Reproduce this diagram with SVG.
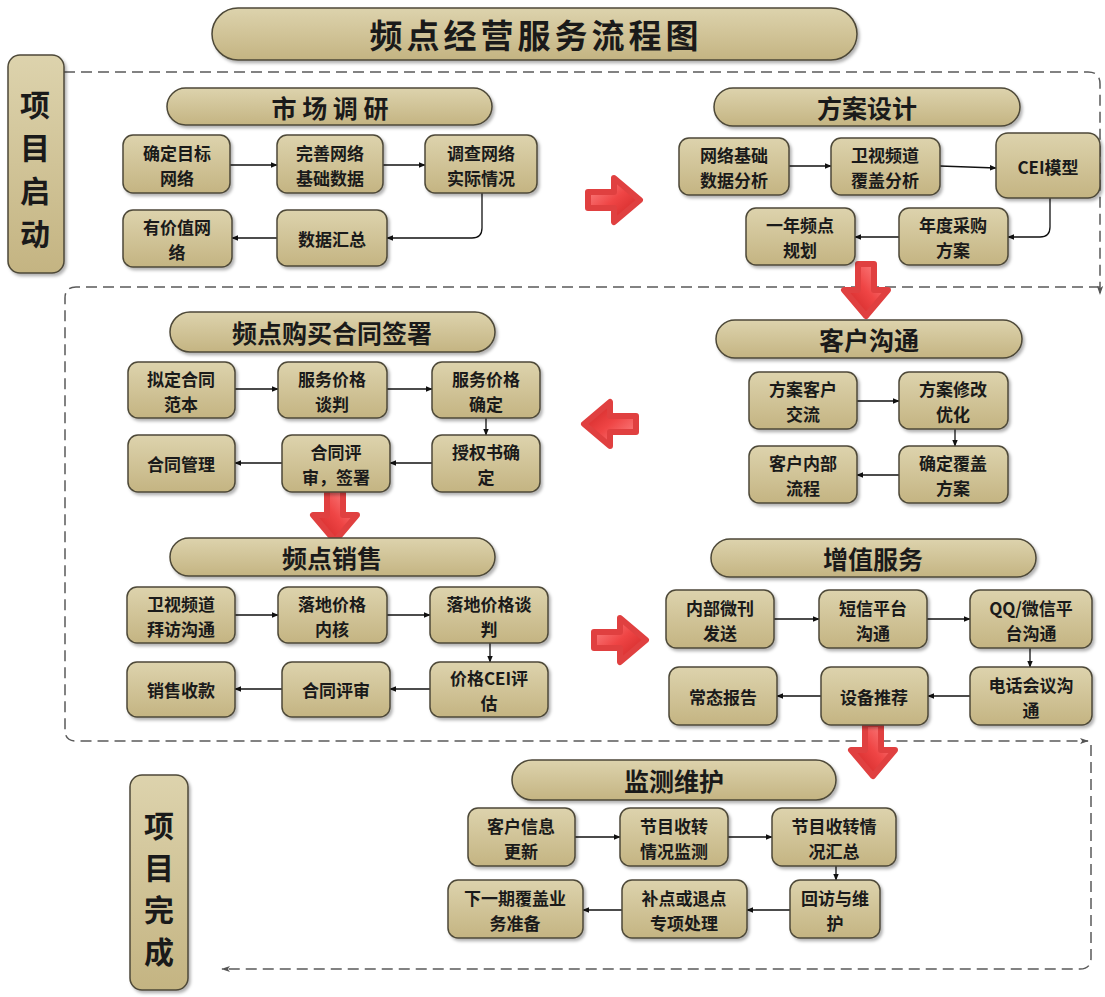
<svg xmlns="http://www.w3.org/2000/svg" width="1105" height="997" viewBox="0 0 1105 997">
<defs>
<linearGradient id="tan" x1="0" y1="0" x2="0" y2="1">
<stop offset="0" stop-color="#ddd3ad"/>
<stop offset="1" stop-color="#c4b482"/>
</linearGradient>
<linearGradient id="red" x1="0" y1="0" x2="1" y2="1">
<stop offset="0" stop-color="#ff9090"/>
<stop offset="0.5" stop-color="#ef4545"/>
<stop offset="1" stop-color="#c82020"/>
</linearGradient>
<filter id="sh" x="-10%" y="-10%" width="130%" height="140%">
<feDropShadow dx="2" dy="2.5" stdDeviation="1.5" flood-color="#000" flood-opacity="0.3"/>
</filter>
<marker id="ah" viewBox="0 0 10 10" refX="9" refY="5" markerWidth="7" markerHeight="7" orient="auto" markerUnits="userSpaceOnUse">
<path d="M0,1 L10,5 L0,9 Z" fill="#111"/>
</marker>
<marker id="dh" viewBox="0 0 10 10" refX="9" refY="5" markerWidth="9" markerHeight="9" orient="auto" markerUnits="userSpaceOnUse">
<path d="M0,1.5 L10,5 L0,8.5 L2.5,5 Z" fill="#555"/>
</marker>
<path id="rarrow" d="M-26,-8 L0,-8 L0,-22 L26,0 L0,22 L0,8 L-26,8 Z" fill="url(#red)" stroke="#e04040" stroke-width="6" stroke-linejoin="round"/>
</defs>
<style>
.box{fill:url(#tan);stroke:#4d4838;stroke-width:1.5;filter:url(#sh)}
.t{font-family:"Noto Sans CJK SC","Noto Sans",sans-serif;font-weight:bold;font-size:17px;fill:#1a1a1a;text-anchor:middle;dominant-baseline:central}
.h{font-family:"Noto Sans CJK SC","Noto Sans",sans-serif;font-weight:bold;font-size:25px;fill:#1a1a1a;text-anchor:middle;dominant-baseline:central}
.v{font-family:"Noto Sans CJK SC","Noto Sans",sans-serif;font-weight:bold;font-size:30px;fill:#1a1a1a;text-anchor:middle;dominant-baseline:central}
.c{fill:none;stroke:#111;stroke-width:1.3;marker-end:url(#ah)}
.d{fill:none;stroke:#5a5a5a;stroke-width:1.5;stroke-dasharray:11 6}
</style>

<g id="boundaries">
<path class="d" d="M64,72 H1088 Q1100,72 1100,84 V294" marker-end="url(#dh)"/>
<path class="d" d="M1100,287 H76 Q65,287 65,298 V730 Q65,741 76,741 H1088" marker-end="url(#dh)"/>
<path class="d" d="M1091,745 V958 Q1091,969 1080,969 H222" marker-end="url(#dh)"/>
</g>

<g id="title"><rect class="box" x="212" y="8" width="645" height="52" rx="26"/><text class="h" style="font-size:33px;letter-spacing:4px" x="536" y="34">频点经营服务流程图</text></g>

<g id="project-start"><rect class="box" x="8" y="55" width="56" height="218" rx="12"/>
<text class="v" x="35"><tspan x="35" y="103">项</tspan><tspan x="35" y="146">目</tspan><tspan x="35" y="189">启</tspan><tspan x="35" y="232">动</tspan></text></g>

<g id="project-done"><rect class="box" x="130" y="775" width="58" height="215" rx="12"/>
<text class="v" x="159"><tspan x="159" y="824">项</tspan><tspan x="159" y="866">目</tspan><tspan x="159" y="908">完</tspan><tspan x="159" y="950">成</tspan></text></g>

<g id="connectors">
<path class="c" d="M230,165 H277"/>
<path class="c" d="M383,165 H425"/>
<path class="c" d="M482,193 V228 Q482,238 472,238 H387"/>
<path class="c" d="M277,238 H232"/>
<path class="c" d="M789,166 H831"/>
<path class="c" d="M940,166 L996,168"/>
<path class="c" d="M1050,198 V227 Q1050,237 1040,237 H1008"/>
<path class="c" d="M899,237 H855"/>
<path class="c" d="M235,389 H278"/>
<path class="c" d="M387,389 H432"/>
<path class="c" d="M486,418 V435"/>
<path class="c" d="M432,463 H390"/>
<path class="c" d="M282,463 H235"/>
<path class="c" d="M857,401 H899"/>
<path class="c" d="M955,429 V446"/>
<path class="c" d="M899,475 H857"/>
<path class="c" d="M235,615 H278"/>
<path class="c" d="M387,615 H430"/>
<path class="c" d="M490,643 V662"/>
<path class="c" d="M430,689 H390"/>
<path class="c" d="M282,689 H235"/>
<path class="c" d="M774,619 H819"/>
<path class="c" d="M927,619 H970"/>
<path class="c" d="M1030,648 V667"/>
<path class="c" d="M970,696 H928"/>
<path class="c" d="M821,696 H777"/>
<path class="c" d="M575,837 H620"/>
<path class="c" d="M728,837 H772"/>
<path class="c" d="M836,866 V880"/>
<path class="c" d="M790,910 H747"/>
<path class="c" d="M622,910 H583"/>
</g>

<g id="flow-arrows">
<use href="#rarrow" transform="translate(614,200)"/>
<use href="#rarrow" transform="translate(866,290) rotate(90)"/>
<use href="#rarrow" transform="translate(610,424) rotate(180)"/>
<use href="#rarrow" transform="translate(335,515) rotate(90)"/>
<use href="#rarrow" transform="translate(620,640)"/>
<use href="#rarrow" transform="translate(873,750) rotate(90)"/>
</g>

<g id="sec-market">
<rect class="box" x="167" y="88" width="325" height="37" rx="18.5"/><text class="h" x="330" y="107">市 场 调 研</text>
</g>
<g id="n-qdmb"><rect class="box" x="123" y="135" width="107" height="58" rx="10"/><text class="t" x="177"><tspan x="177" y="152">确定目标</tspan><tspan x="177" y="177">网络</tspan></text></g>
<g id="n-wsjc"><rect class="box" x="277" y="135" width="106" height="58" rx="10"/><text class="t" x="330"><tspan x="330" y="152">完善网络</tspan><tspan x="330" y="177">基础数据</tspan></text></g>
<g id="n-dcwl"><rect class="box" x="425" y="135" width="112" height="58" rx="10"/><text class="t" x="481"><tspan x="481" y="152">调查网络</tspan><tspan x="481" y="177">实际情况</tspan></text></g>
<g id="n-yjz"><rect class="box" x="123" y="210" width="109" height="57" rx="10"/><text class="t" x="177"><tspan x="177" y="226">有价值网</tspan><tspan x="177" y="251">络</tspan></text></g>
<g id="n-sjhz"><rect class="box" x="277" y="210" width="110" height="56" rx="10"/><text class="t" x="332" y="238">数据汇总</text></g>

<g id="sec-plan">
<rect class="box" x="714" y="88" width="306" height="38" rx="19"/><text class="h" x="867" y="107">方案设计</text>
</g>
<g id="n-wljc"><rect class="box" x="679" y="138" width="110" height="57" rx="10"/><text class="t" x="734"><tspan x="734" y="154">网络基础</tspan><tspan x="734" y="179">数据分析</tspan></text></g>
<g id="n-wspd"><rect class="box" x="831" y="138" width="109" height="57" rx="10"/><text class="t" x="885"><tspan x="885" y="154">卫视频道</tspan><tspan x="885" y="179">覆盖分析</tspan></text></g>
<g id="n-cei"><rect class="box" x="996" y="133" width="104" height="65" rx="12"/><text class="t" x="1048" y="166">CEI模型</text></g>
<g id="n-ynpd"><rect class="box" x="746" y="208" width="109" height="57" rx="10"/><text class="t" x="800"><tspan x="800" y="224">一年频点</tspan><tspan x="800" y="249">规划</tspan></text></g>
<g id="n-ndcg"><rect class="box" x="899" y="208" width="109" height="57" rx="10"/><text class="t" x="953"><tspan x="953" y="224">年度采购</tspan><tspan x="953" y="249">方案</tspan></text></g>

<g id="sec-contract">
<rect class="box" x="170" y="312" width="325" height="40" rx="20"/><text class="h" x="332" y="332">频点购买合同签署</text>
</g>
<g id="n-ndht"><rect class="box" x="128" y="362" width="107" height="56" rx="10"/><text class="t" x="181"><tspan x="181" y="378">拟定合同</tspan><tspan x="181" y="403">范本</tspan></text></g>
<g id="n-fwtp"><rect class="box" x="278" y="362" width="109" height="56" rx="10"/><text class="t" x="332"><tspan x="332" y="378">服务价格</tspan><tspan x="332" y="403">谈判</tspan></text></g>
<g id="n-fwqd"><rect class="box" x="432" y="362" width="108" height="56" rx="10"/><text class="t" x="486"><tspan x="486" y="378">服务价格</tspan><tspan x="486" y="403">确定</tspan></text></g>
<g id="n-htgl"><rect class="box" x="128" y="435" width="107" height="57" rx="10"/><text class="t" x="181" y="463">合同管理</text></g>
<g id="n-htps"><rect class="box" x="282" y="435" width="108" height="57" rx="10"/><text class="t" x="336"><tspan x="336" y="451">合同评</tspan><tspan x="336" y="476">审，签署</tspan></text></g>
<g id="n-sqs"><rect class="box" x="432" y="435" width="108" height="57" rx="10"/><text class="t" x="486"><tspan x="486" y="451">授权书确</tspan><tspan x="486" y="476">定</tspan></text></g>

<g id="sec-client">
<rect class="box" x="716" y="320" width="306" height="38" rx="19"/><text class="h" x="869" y="339">客户沟通</text>
</g>
<g id="n-fakh"><rect class="box" x="749" y="372" width="108" height="57" rx="10"/><text class="t" x="803"><tspan x="803" y="388">方案客户</tspan><tspan x="803" y="413">交流</tspan></text></g>
<g id="n-faxg"><rect class="box" x="899" y="372" width="109" height="57" rx="10"/><text class="t" x="953"><tspan x="953" y="388">方案修改</tspan><tspan x="953" y="413">优化</tspan></text></g>
<g id="n-khnb"><rect class="box" x="749" y="446" width="108" height="57" rx="10"/><text class="t" x="803"><tspan x="803" y="462">客户内部</tspan><tspan x="803" y="487">流程</tspan></text></g>
<g id="n-qdfg"><rect class="box" x="899" y="446" width="109" height="57" rx="10"/><text class="t" x="953"><tspan x="953" y="462">确定覆盖</tspan><tspan x="953" y="487">方案</tspan></text></g>

<g id="sec-sales">
<rect class="box" x="170" y="538" width="325" height="38" rx="19"/><text class="h" x="332" y="557">频点销售</text>
</g>
<g id="n-wsbf"><rect class="box" x="127" y="587" width="108" height="56" rx="10"/><text class="t" x="181"><tspan x="181" y="603">卫视频道</tspan><tspan x="181" y="628">拜访沟通</tspan></text></g>
<g id="n-ldnh"><rect class="box" x="278" y="587" width="109" height="56" rx="10"/><text class="t" x="332"><tspan x="332" y="603">落地价格</tspan><tspan x="332" y="628">内核</tspan></text></g>
<g id="n-ldtp"><rect class="box" x="430" y="587" width="118" height="56" rx="10"/><text class="t" x="489"><tspan x="489" y="603">落地价格谈</tspan><tspan x="489" y="628">判</tspan></text></g>
<g id="n-xssk"><rect class="box" x="127" y="662" width="108" height="55" rx="10"/><text class="t" x="181" y="689">销售收款</text></g>
<g id="n-htps2"><rect class="box" x="282" y="662" width="108" height="55" rx="10"/><text class="t" x="336" y="689">合同评审</text></g>
<g id="n-jgcei"><rect class="box" x="430" y="662" width="118" height="55" rx="10"/><text class="t" x="489"><tspan x="489" y="677">价格CEI评</tspan><tspan x="489" y="702">估</tspan></text></g>

<g id="sec-value">
<rect class="box" x="711" y="539" width="325" height="38" rx="19"/><text class="h" x="873" y="558">增值服务</text>
</g>
<g id="n-nbwk"><rect class="box" x="666" y="590" width="108" height="58" rx="10"/><text class="t" x="720"><tspan x="720" y="607">内部微刊</tspan><tspan x="720" y="632">发送</tspan></text></g>
<g id="n-dxpt"><rect class="box" x="819" y="590" width="108" height="58" rx="10"/><text class="t" x="873"><tspan x="873" y="607">短信平台</tspan><tspan x="873" y="632">沟通</tspan></text></g>
<g id="n-qq"><rect class="box" x="970" y="590" width="122" height="58" rx="10"/><text class="t" x="1031"><tspan x="1031" y="607">QQ/微信平</tspan><tspan x="1031" y="632">台沟通</tspan></text></g>
<g id="n-ctbg"><rect class="box" x="669" y="667" width="108" height="58" rx="10"/><text class="t" x="723" y="696">常态报告</text></g>
<g id="n-sbtj"><rect class="box" x="821" y="667" width="107" height="58" rx="10"/><text class="t" x="874" y="696">设备推荐</text></g>
<g id="n-dhhy"><rect class="box" x="970" y="667" width="122" height="58" rx="10"/><text class="t" x="1031"><tspan x="1031" y="684">电话会议沟</tspan><tspan x="1031" y="709">通</tspan></text></g>

<g id="sec-monitor">
<rect class="box" x="512" y="760" width="324" height="40" rx="20"/><text class="h" x="674" y="780">监测维护</text>
</g>
<g id="n-khxx"><rect class="box" x="468" y="808" width="107" height="58" rx="10"/><text class="t" x="521"><tspan x="521" y="825">客户信息</tspan><tspan x="521" y="850">更新</tspan></text></g>
<g id="n-jmjc"><rect class="box" x="620" y="808" width="108" height="58" rx="10"/><text class="t" x="674"><tspan x="674" y="825">节目收转</tspan><tspan x="674" y="850">情况监测</tspan></text></g>
<g id="n-jmhz"><rect class="box" x="772" y="808" width="124" height="58" rx="10"/><text class="t" x="834"><tspan x="834" y="825">节目收转情</tspan><tspan x="834" y="850">况汇总</tspan></text></g>
<g id="n-xyq"><rect class="box" x="448" y="880" width="135" height="58" rx="10"/><text class="t" x="515"><tspan x="515" y="897">下一期覆盖业</tspan><tspan x="515" y="922">务准备</tspan></text></g>
<g id="n-bd"><rect class="box" x="622" y="880" width="125" height="58" rx="10"/><text class="t" x="684"><tspan x="684" y="897">补点或退点</tspan><tspan x="684" y="922">专项处理</tspan></text></g>
<g id="n-hf"><rect class="box" x="790" y="880" width="90" height="58" rx="10"/><text class="t" x="835"><tspan x="835" y="897">回访与维</tspan><tspan x="835" y="922">护</tspan></text></g>
</svg>
